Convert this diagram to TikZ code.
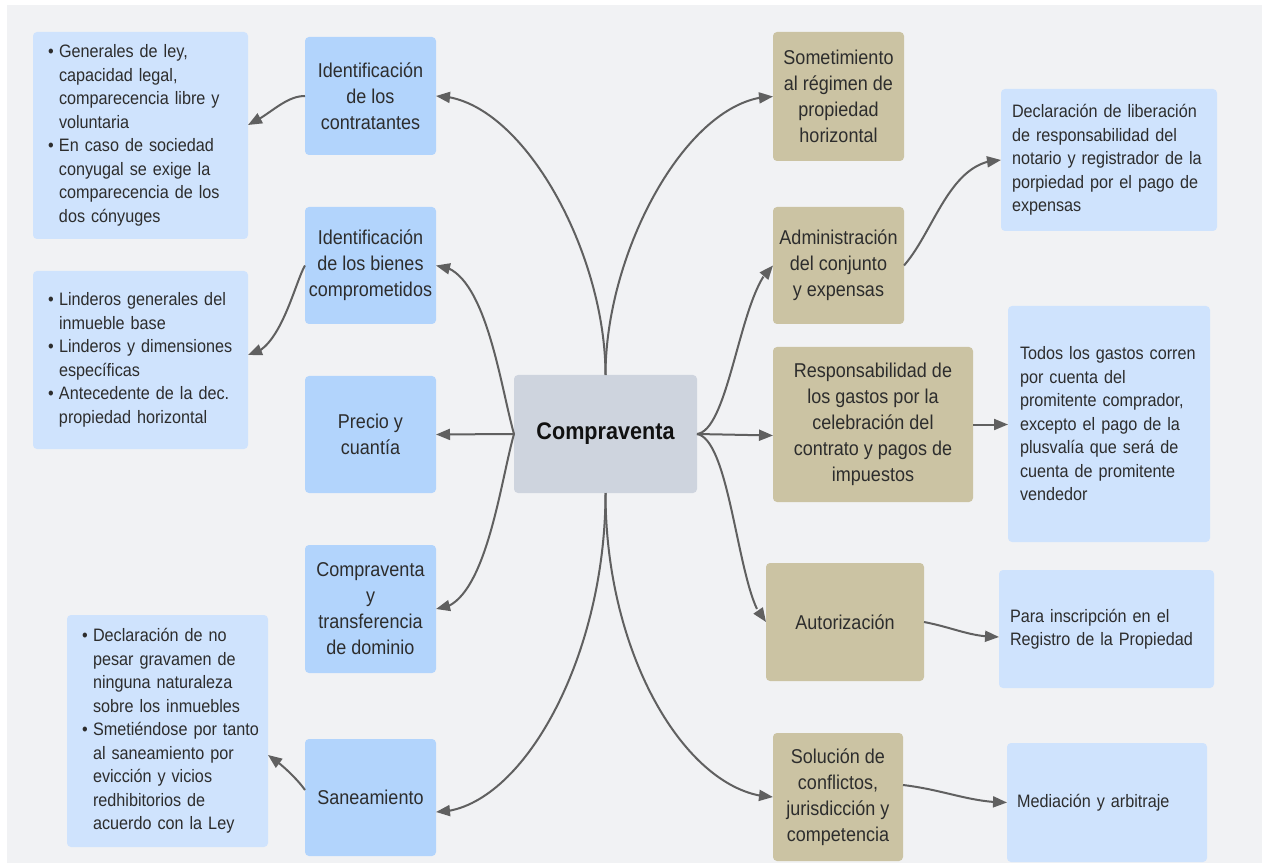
\documentclass[tikz,border=0pt]{standalone}
\usepackage{fontspec}
\setmainfont{Liberation Sans}[FakeStretch=0.9]
\usetikzlibrary{arrows.meta,bending}

\definecolor{panel}{RGB}{241,242,244}
\definecolor{topicblue}{RGB}{178,212,252}
\definecolor{noteblue}{RGB}{207,227,253}
\definecolor{tan}{RGB}{203,195,163}
\definecolor{hub}{RGB}{206,212,222}
\definecolor{ink}{RGB}{45,45,45}
\definecolor{wire}{RGB}{96,96,96}

% bullet line, continuation line and plain line for the note boxes
\newcommand{\bul}[1]{\mbox{\makebox[11pt][l]{\raisebox{0.5pt}{•}}#1}}
\newcommand{\cnt}[1]{\mbox{\hspace*{11pt}#1}}
\newcommand{\nline}[1]{\mbox{#1}}

\begin{document}
\begin{tikzpicture}[x=1pt,y=-1pt,
  box/.style={rectangle, rounded corners=4pt, outer sep=0pt, inner sep=0pt, text=ink, align=center},
  topic/.style={box, fill=topicblue, font=\fontsize{20}{26}\selectfont},
  branch/.style={box, fill=tan, font=\fontsize{20}{26}\selectfont},
  note/.style={box, fill=noteblue, align=left, font=\fontsize{18}{23.5}\selectfont},
  hubbox/.style={box, fill=hub, text={rgb,255:red,17;green,17;blue,17}, font=\fontsize{24}{28}\selectfont\bfseries},
  conn/.style={draw=wire, line width=2pt, -{Triangle[length=14pt,width=11pt]}}
]
\useasboundingbox (0,0) rectangle (1266,866);
\fill[white] (0,0) rectangle (1266,866);
\fill[panel] (7,5) rectangle (1262,863);

% central topic
\node[hubbox, minimum width=183pt, minimum height=118pt] (c) at (605.5,434) {Compraventa};

% left topics
\node[topic, minimum width=131pt, minimum height=118pt] (idc) at (370.5,96) {Identificación\\de los\\contratantes};
\node[topic, minimum width=131pt, minimum height=117pt] (idb) at (370.5,265.5) {Identificación\\de los bienes\\comprometidos};
\node[topic, minimum width=131pt, minimum height=117pt] (pre) at (370.5,434.5) {Precio y\\cuantía};
\node[topic, minimum width=131pt, minimum height=128pt] (ctd) at (370.5,609) {Compraventa\\y\\transferencia\\de dominio};
\node[topic, minimum width=131pt, minimum height=117pt] (san) at (370.5,797.5) {Saneamiento};

% left notes
\node[note, minimum width=215pt, minimum height=207pt, inner xsep=15pt, text width=185pt] (b1) at (140.5,135.5)
  {\bul{Generales de ley,}\\\cnt{capacidad legal,}\\\cnt{comparecencia libre y}\\\cnt{voluntaria}\\
   \bul{En caso de sociedad}\\\cnt{conyugal se exige la}\\\cnt{comparecencia de los}\\\cnt{dos cónyuges}};
\node[note, minimum width=215pt, minimum height=178pt, inner xsep=15pt, text width=185pt] (b2) at (140.5,360)
  {\bul{Linderos generales del}\\\cnt{inmueble base}\\\bul{Linderos y dimensiones}\\\cnt{específicas}\\
   \bul{Antecedente de la dec.}\\\cnt{propiedad horizontal}};
\node[note, minimum width=201pt, minimum height=232pt, inner xsep=15pt, text width=171pt] (b3) at (167.5,731)
  {\bul{Declaración de no}\\\cnt{pesar gravamen de}\\\cnt{ninguna naturaleza}\\\cnt{sobre los inmuebles}\\
   \bul{Smetiéndose por tanto}\\\cnt{al saneamiento por}\\\cnt{evicción y vicios}\\\cnt{redhibitorios de}\\\cnt{acuerdo con la Ley}};

% right topics
\node[branch, minimum width=131pt, minimum height=129pt] (som) at (838.5,96.5) {Sometimiento\\al régimen de\\propiedad\\horizontal};
\node[branch, minimum width=131pt, minimum height=117pt] (adm) at (838.5,265.5) {Administración\\del conjunto\\y expensas};
\node[branch, minimum width=200pt, minimum height=155pt] (res) at (873,424.5) {Responsabilidad de\\los gastos por la\\celebración del\\contrato y pagos de\\impuestos};
\node[branch, minimum width=158pt, minimum height=118pt] (aut) at (845,622) {Autorización};
\node[branch, minimum width=130pt, minimum height=128pt] (sol) at (838,797) {Solución de\\conflictos,\\jurisdicción y\\competencia};

% right notes
\node[note, minimum width=216pt, minimum height=142pt, inner xsep=11pt, text width=194pt] (dec) at (1109,160)
  {\nline{Declaración de liberación}\\\nline{de responsabilidad del}\\\nline{notario y registrador de la}\\\nline{porpiedad por el pago de}\\\nline{expensas}};
\node[note, minimum width=202pt, minimum height=236pt, inner xsep=12pt, text width=178pt] (tod) at (1109,424)
  {\nline{Todos los gastos corren}\\\nline{por cuenta del}\\\nline{promitente comprador,}\\\nline{excepto el pago de la}\\\nline{plusvalía que será de}\\\nline{cuenta de promitente}\\\nline{vendedor}};
\node[note, minimum width=215pt, minimum height=118pt, inner xsep=11pt, text width=193pt] (par) at (1106.5,629)
  {\nline{Para inscripción en el}\\\nline{Registro de la Propiedad}};
\node[note, minimum width=200pt, minimum height=119pt, inner xsep=10pt, text width=180pt] (med) at (1107,802.5)
  {\nline{Mediación y arbitraje}};

% connectors from the central topic
\draw[conn] (c.north) .. controls +(0,-125) and +(84,0) .. (idc.east);
\draw[conn] (c.west) .. controls +(-14,-49) and +(49,0) .. (idb.east);
\draw[conn] (c.west) -- (pre.east);
\draw[conn] (c.west) .. controls +(-14,49) and +(49,0) .. (ctd.east);
\draw[conn] (c.south) .. controls +(0,167) and +(84,0) .. ([yshift=-14.5pt]san.east);
\draw[conn] (c.north) .. controls +(0,-125) and +(-84,0) .. (som.west);
\draw[conn] (c.east) .. controls +(33,-4) and +(-33,24.5) .. (adm.west);
\draw[conn] (c.east) -- ([yshift=-11pt]res.west);
\draw[conn] (c.east) .. controls +(35,6) and +(-28,-22) .. (aut.west);
\draw[conn] (c.south) .. controls +(0,167) and +(-83,-2) .. (sol.west);

% connectors to the detail notes
\draw[conn] (idc.west) .. controls +(-20,0) and +(22,-10) .. ([yshift=10.5pt]b1.east);
\draw[conn] (idb.west) .. controls +(-10,16.5) and +(32,-3) .. ([yshift=5pt]b2.east);
\draw[conn] ([yshift=7.5pt]san.west) .. controls +(-7,-10) and +(14,9) .. ([yshift=-24pt]b3.east);
\draw[conn] (adm.east) .. controls +(31,-35.5) and +(-51,0) .. (dec.west);
\draw[conn] (res.east) -- (res.east -| tod.west);
\draw[conn] (aut.east) .. controls +(31,6) and +(-29,0) .. ([yshift=-8pt]par.west);
\draw[conn] ([yshift=12pt]sol.east) .. controls +(42,5) and +(-37,0) .. (med.west);
\end{tikzpicture}
\end{document}
